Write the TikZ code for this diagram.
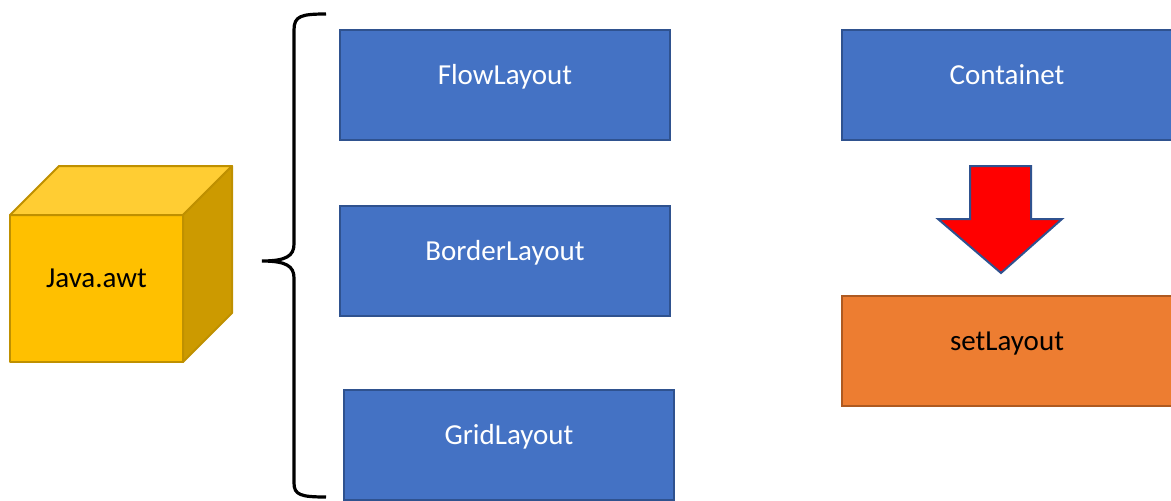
\documentclass[tikz,border=0pt]{standalone}
\usepackage{fontspec}
\setmainfont{Carlito}
\definecolor{boxblue}{HTML}{4472C4}
\definecolor{boxblueedge}{HTML}{2F528F}
\definecolor{boxorange}{HTML}{ED7D31}
\definecolor{boxorangeedge}{HTML}{AE5A21}
\definecolor{cubefront}{HTML}{FFC000}
\definecolor{cubetop}{HTML}{FFCD33}
\definecolor{cubeside}{HTML}{CC9A00}
\definecolor{cubeedge}{HTML}{BF9000}
\definecolor{arrowred}{HTML}{FF0000}
\tikzset{
  labelfont/.style={font=\fontsize{21.75}{26}\selectfont, text height=0.644em, text depth=0.78em},
  panel/.style={rectangle, inner sep=0pt, outer sep=0pt, minimum width=247.5pt, minimum height=82.5pt, line width=1.5pt, labelfont},
  bluebox/.style={panel, fill=boxblue, draw=boxblueedge, text=white},
  orangebox/.style={panel, fill=boxorange, draw=boxorangeedge, text=black},
  cubeface/.style={draw=cubeedge, line width=1.5pt, line join=round},
  bracket/.style={draw=black, line width=2.4pt},
}
\begin{document}
\begin{tikzpicture}[x=0.75pt, y=-0.75pt]
\useasboundingbox (0,0) rectangle (1171,500);

% package cube
\node[cubeface, fill=cubefront, rectangle, inner sep=0pt, outer sep=0pt,
      minimum width=129.75pt, minimum height=110.25pt, labelfont, text=black]
      (awt) at (96.5,288.5) {Java.awt};
\path[cubeface, fill=cubetop]
  (awt.north west) -- ++(49,-49) -- ++(173,0) -- (awt.north east) -- cycle;
\path[cubeface, fill=cubeside]
  (awt.north east) -- ++(49,-49) -- ++(0,147) -- (awt.south east) -- cycle;

% layout managers
\node[bluebox] (flow)   at (505,85)  {FlowLayout};
\node[bluebox] (border) at (505,261) {BorderLayout};
\node[bluebox] (grid)   at (509,445) {GridLayout};

% curly bracket grouping them
\path[bracket]
  (326,14) .. controls (301,14) and (294,16) .. (294,30)
  -- (294,244) .. controls (294,256) and (286,261) .. (262,261)
  .. controls (286,261) and (294,266) .. (294,278)
  -- (294,483) .. controls (294,495) and (301,497) .. (326,497);

% container and the call applied to it
\node[bluebox]   (cont) at (1007,85)  {Containet};
\node[orangebox] (set)  at (1007,351) {setLayout};

\path[draw=boxblueedge, fill=arrowred, line width=1.5pt, line join=miter]
  (970,166) -- (1031,166) -- (1031,219) -- (1062,219) -- (1001,273)
  -- (938,219) -- (970,219) -- cycle;
\end{tikzpicture}
\end{document}
